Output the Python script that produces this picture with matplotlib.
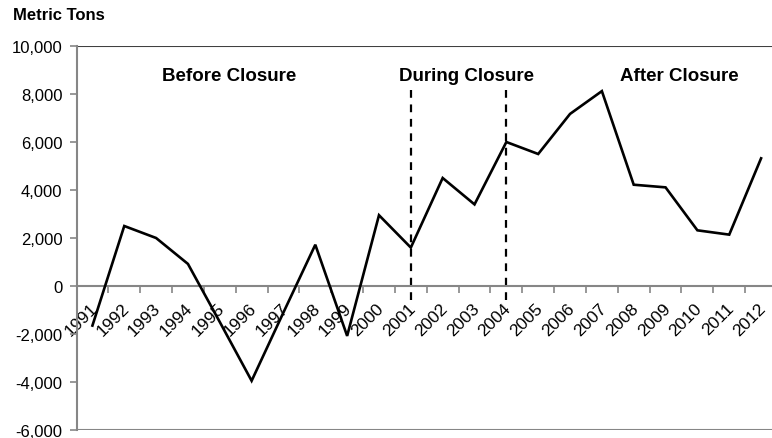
import numpy as np
import matplotlib
matplotlib.use("Agg")
import matplotlib.pyplot as plt
from matplotlib.transforms import ScaledTranslation

plt.rcParams['font.family'] = ['Liberation Sans', 'DejaVu Sans']

years = [str(y) for y in range(1991, 2013)]
values = [-1650, 2500, 2000, 920, -1500, -3950, -1100, 1720, -2080, 2950,
          1600, 4500, 3400, 6000, 5500, 7170, 8120, 4220, 4110, 2320, 2140, 5320]
period_labels = ["Before Closure", "During Closure", "After Closure"]
period_label_x = [4.29, 11.76, 18.43]
boundary_years = ["2001", "2004"]
yticks = [-6000, -4000, -2000, 0, 2000, 4000, 6000, 8000, 10000]

W, H = 772, 439
fig = plt.figure(figsize=(W / 100, H / 100), dpi=100)
left, right_px, top_px, bottom_px = 76.5, 777.0, 47.0, 431.0
ax = fig.add_axes([left / W, 1 - bottom_px / H, (right_px - left) / W, (bottom_px - top_px) / H])

x = np.arange(len(years))
gray = '#868686'

for s in ['top', 'right']:
    ax.spines[s].set_visible(False)
ax.spines['left'].set_color(gray)
ax.spines['left'].set_linewidth(1.5)
ax.spines['bottom'].set_color(gray)
ax.spines['bottom'].set_linewidth(1.5)
ax.spines['bottom'].set_position(('data', 0))

ax.plot(x, values, color='black', lw=1.9, solid_joinstyle='miter', zorder=3)

for by in boundary_years:
    bx = years.index(by)
    ax.plot([bx, bx], [-600, 8250], color='black', lw=1.6, ls=(0, (3.5, 3)), zorder=2)

for lab, lx in zip(period_labels, period_label_x):
    ax.text(lx, 8770, lab, ha='center', va='center', fontsize=13.5, fontweight='bold', color='black')

ax.set_xlim(-0.5, len(years) - 0.5)
ax.set_ylim(-6000, 10000)

ax.set_yticks(yticks)
ax.set_yticklabels([f"{v:,}" for v in yticks], fontsize=12)
ax.tick_params(axis='y', length=5, width=1.2, color=gray, pad=5)

ax.set_xticks(x, labels=years, rotation=45, ha='right', va='top',
              rotation_mode='anchor', fontsize=12.5)
ax.tick_params(axis='x', which='major', length=0, pad=10)
ax.set_xticks(np.arange(-0.5, len(years), 1), minor=True)
ax.tick_params(axis='x', which='minor', length=5, width=1.2, color=gray, direction='out')
shift = ScaledTranslation(-3 / 100, 0, fig.dpi_scale_trans)
for t in ax.get_xticklabels():
    t.set_transform(t.get_transform() + shift)

ax.axhline(10000, color='#404040', lw=1.5, zorder=1)
ax.axhline(-6000, color=gray, lw=1.5, zorder=1)

fig.text(13 / W, 1 - 15 / H, "Metric Tons", fontsize=12, fontweight='bold', ha='left', va='center')

fig.savefig("out.png", dpi=100)
